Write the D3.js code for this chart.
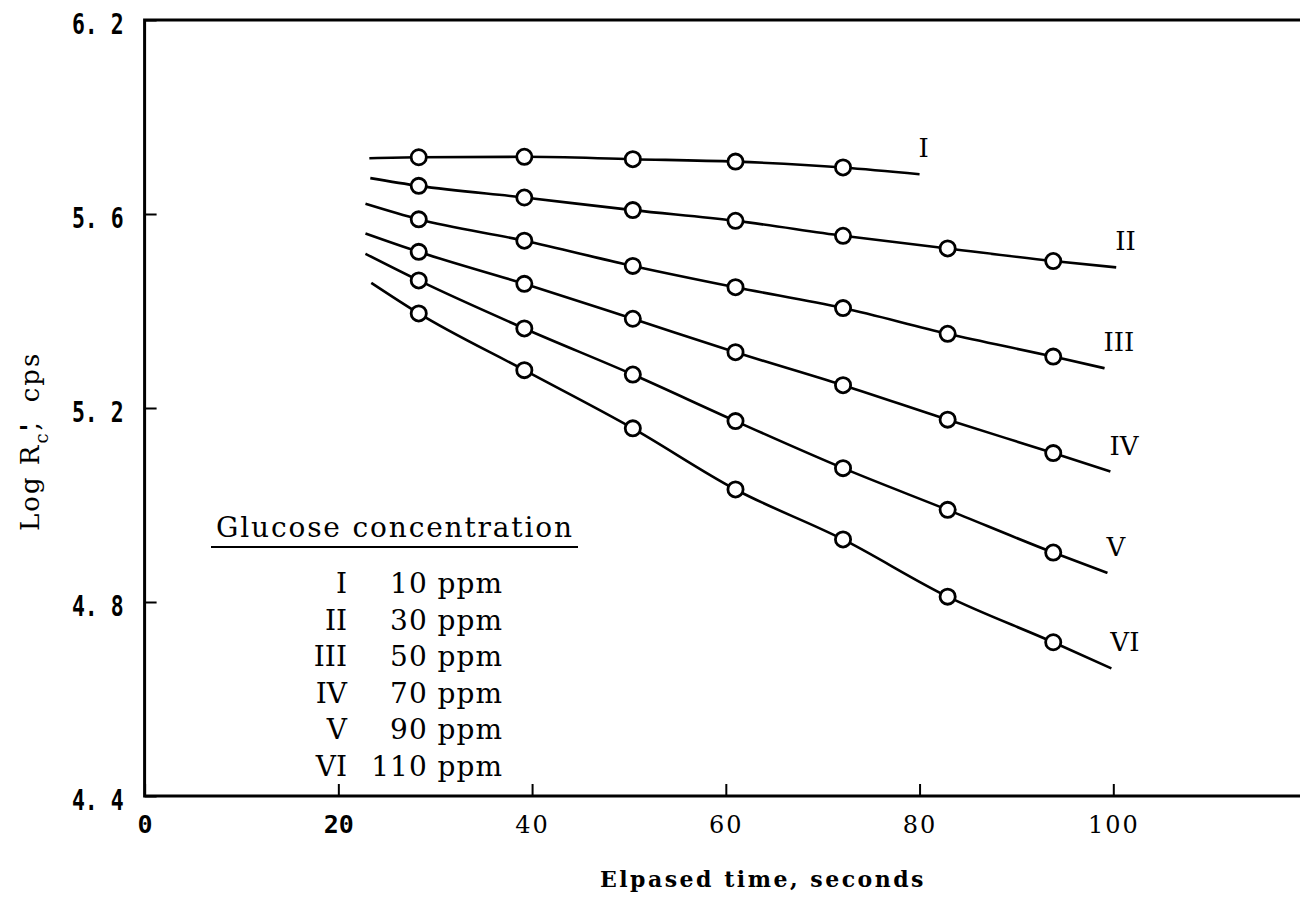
<!DOCTYPE html>
<html>
<head>
<meta charset="utf-8">
<script src="https://cdn.jsdelivr.net/npm/d3@7"></script>
<style>
  html, body { margin: 0; padding: 0; background: #fff; }
  svg { display: block; }
</style>
</head>
<body>
<svg id="chart" width="1300" height="897"></svg>
<script>
// Sampling times (seconds) at which count rates were measured
const times = [28.3, 39.2, 50.4, 61.0, 72.1, 82.9, 93.8];

// Curve identifiers and glucose concentrations (ppm)
const seriesNames = ["I", "II", "III", "IV", "V", "VI"];
const concentrationsPpm = [10, 30, 50, 70, 90, 110];

// Log R'c (cps) at each sampling time, one array per concentration
const logRateI   = [5.717, 5.718, 5.713, 5.708, 5.696];
const logRateII  = [5.658, 5.634, 5.608, 5.586, 5.555, 5.529, 5.503];
const logRateIII = [5.589, 5.545, 5.493, 5.449, 5.406, 5.353, 5.306];
const logRateIV  = [5.522, 5.456, 5.384, 5.315, 5.247, 5.176, 5.107];
const logRateV   = [5.463, 5.364, 5.269, 5.173, 5.076, 4.990, 4.902];
const logRateVI  = [5.395, 5.278, 5.158, 5.032, 4.929, 4.811, 4.717];

// Extent of each fitted curve (time, log rate) at its two ends
const fitStartTime = [23.2, 23.3, 22.8, 22.8, 22.8, 23.4];
const fitStartLog  = [5.715, 5.674, 5.621, 5.560, 5.518, 5.458];
const fitEndTime   = [80.0, 100.3, 99.1, 99.7, 99.4, 99.8];
const fitEndLog    = [5.682, 5.490, 5.282, 5.069, 4.860, 4.663];

// Axis ticks and their printed labels
const xTicks = [0, 20, 40, 60, 80, 100];
const yTicks = [4.4, 4.8, 5.2, 5.6, 6.0];
const yTickLabels = ["4. 4", "4. 8", "5. 2", "5. 6", "6. 2"];

const logRates = [logRateI, logRateII, logRateIII, logRateIV, logRateV, logRateVI];

const W = 1300, H = 897;
const svg = d3.select("#chart");
const serif = "'DejaVu Serif', serif";
const mono = "'DejaVu Sans Mono', monospace";

const x = d3.scaleLinear().domain([0, 100]).range([144.6, 1113.3]);
const y = d3.scaleLinear().domain([4.4, 6.0]).range([796, 20]);
const x0 = x(0), yTop = y(6.0), yBot = y(4.4);

// Open frame: left axis plus top and bottom rules running to the page edge
svg.append("path")
  .attr("d", `M${W},${yTop}H${x0}V${yBot}H${W}`)
  .attr("fill", "none")
  .attr("stroke", "#000")
  .attr("stroke-width", 3);

// X axis ticks point inward
const gx = svg.append("g")
  .attr("transform", `translate(0,${yBot})`)
  .call(d3.axisBottom(x).tickValues(xTicks).tickSize(-12).tickSizeOuter(0).tickFormat(d3.format("d")));
gx.select(".domain").remove();
gx.selectAll(".tick line").attr("stroke", "#000").attr("stroke-width", 2);
gx.selectAll(".tick text")
  .attr("y", 37).attr("dy", 0).attr("fill", "#000")
  .attr("font-family", d => d < 40 ? mono : serif)
  .attr("font-weight", d => d < 40 ? "bold" : "normal")
  .attr("font-size", d => d < 40 ? 25 : 24)
  .attr("letter-spacing", d => d < 40 ? 0 : 2);

// Y axis ticks point inward, labels in a narrow typewriter face
const gy = svg.append("g")
  .attr("transform", `translate(${x0},0)`)
  .call(d3.axisLeft(y).tickValues(yTicks).tickSize(-12).tickSizeOuter(0)
    .tickFormat((d, i) => yTickLabels[i]));
gy.select(".domain").remove();
gy.selectAll(".tick line").attr("stroke", "#000").attr("stroke-width", 2);
gy.selectAll(".tick text")
  .attr("x", 0).attr("y", 13).attr("dy", 0)
  .attr("text-anchor", "end").attr("fill", "#000")
  .attr("transform", "translate(-21,0) scale(0.74,1)")
  .attr("font-family", mono)
  .attr("font-weight", "bold")
  .attr("font-size", 29);

// Fitted curves with open-circle observations
const line = d3.line()
  .x(d => x(d[0]))
  .y(d => y(d[1]))
  .curve(d3.curveMonotoneX);

logRates.forEach((vals, k) => {
  const obs = vals.map((v, i) => [times[i], v]);
  const path = [[fitStartTime[k], fitStartLog[k]], ...obs, [fitEndTime[k], fitEndLog[k]]];

  svg.append("path")
    .datum(path)
    .attr("d", line)
    .attr("fill", "none")
    .attr("stroke", "#000")
    .attr("stroke-width", 2.6);

  svg.append("g").selectAll("circle")
    .data(obs)
    .join("circle")
    .attr("cx", d => x(d[0]))
    .attr("cy", d => y(d[1]))
    .attr("r", 7.6)
    .attr("fill", "#fff")
    .attr("stroke", "#000")
    .attr("stroke-width", 2.8);

  svg.append("text")
    .attr("x", x(fitEndTime[k]) - 1)
    .attr("y", y(fitEndLog[k]) - 17)
    .attr("font-family", serif)
    .attr("font-size", 26)
    .attr("fill", "#000")
    .text(seriesNames[k]);
});

// Key to the curves
const legend = svg.append("g");
legend.append("text")
  .attr("x", 216).attr("y", 537)
  .attr("textLength", 356).attr("lengthAdjust", "spacing")
  .attr("font-family", serif).attr("font-size", 28).attr("fill", "#000")
  .text("Glucose concentration");
legend.append("line")
  .attr("x1", 211).attr("x2", 578).attr("y1", 547).attr("y2", 547)
  .attr("stroke", "#000").attr("stroke-width", 2);

seriesNames.forEach((name, i) => {
  const by = 593 + i * 36.6;
  legend.append("text")
    .attr("x", 347).attr("y", by).attr("text-anchor", "end")
    .attr("font-family", serif).attr("font-size", 28).attr("fill", "#000")
    .text(name);
  legend.append("text")
    .attr("x", 503).attr("y", by).attr("text-anchor", "end")
    .attr("font-family", serif).attr("font-size", 28).attr("letter-spacing", 1).attr("fill", "#000")
    .text(`${concentrationsPpm[i]} ppm`);
});

// Axis titles
svg.append("text")
  .attr("x", 926).attr("y", 887).attr("text-anchor", "end")
  .attr("font-family", serif).attr("font-size", 22).attr("font-weight", "bold")
  .attr("letter-spacing", 2.5).attr("fill", "#000")
  .text("Elpased time, seconds");

const yTitle = svg.append("text")
  .attr("transform", "translate(39,531) rotate(-90)")
  .attr("font-family", serif).attr("font-size", 26)
  .attr("letter-spacing", 2).attr("fill", "#000");
yTitle.append("tspan").text("Log R");
yTitle.append("tspan").attr("dy", 9).attr("font-size", 18).text("c");
yTitle.append("tspan").attr("dy", -9).attr("font-weight", "bold").text("'");
yTitle.append("tspan").attr("dx", -9).text(",");
yTitle.append("tspan").attr("dx", 18).text("cps");
</script>
</body>
</html>
